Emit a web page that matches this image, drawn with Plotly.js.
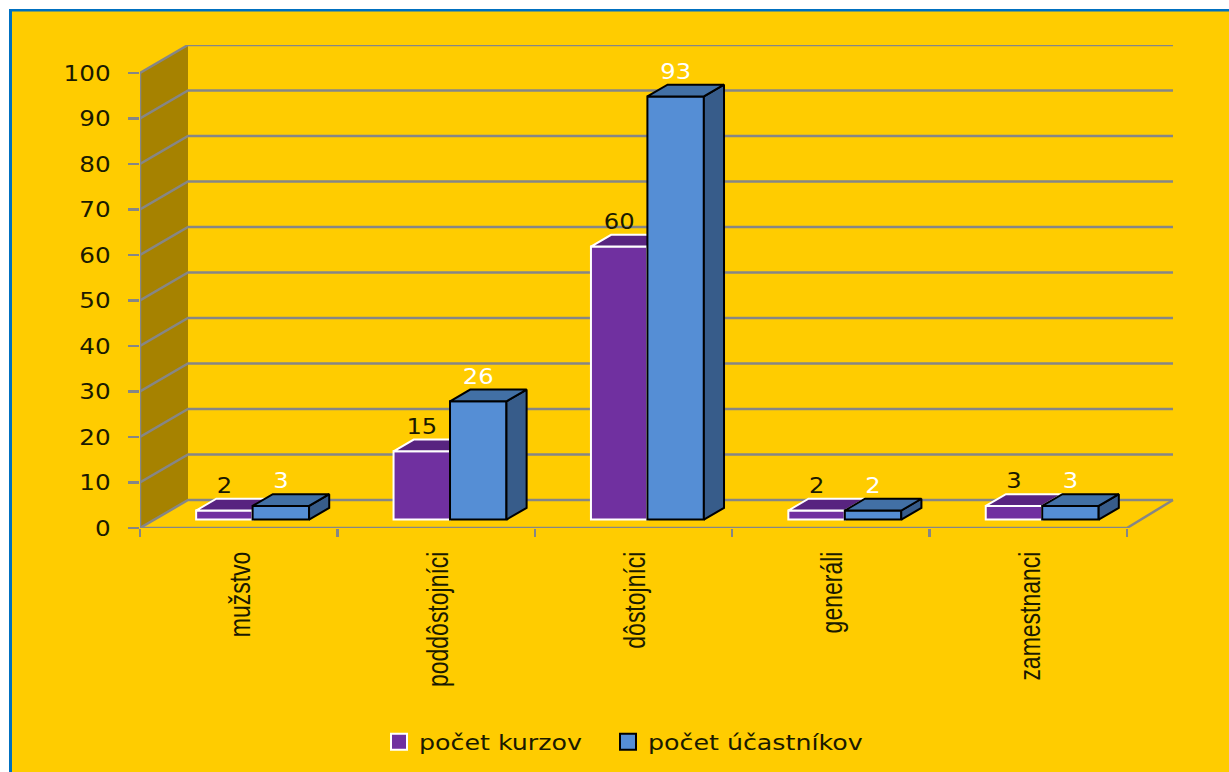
<!DOCTYPE html>
<html>
<head>
<meta charset="utf-8">
<script src="https://cdn.plot.ly/plotly-3.0.1.min.js"></script>
<style>
html,body{margin:0;padding:0;background:#fff;overflow:hidden}
#chart{width:1229px;height:772px}
.legend .scrollbox{clip-path:none !important}
.legendpoints path{d:path('M8,8H-8V-8H8Z')}
</style>
</head>
<body>
<div id="chart"></div>
<script>
// ---- data ----
const categories = ['mužstvo','poddôstojníci','dôstojníci','generáli','zamestnanci'];
const seriesNames = ['počet kurzov','počet účastníkov'];
const kurzov = [2,15,60,2,3];
const ucastnikov = [3,26,93,2,3];
const valueTicks = [0,10,20,30,40,50,60,70,80,90,100];

// ---- look ----
const YELLOW='#FFCC00', WALL='#A68200', GRID='#868686';
const PURPLE={front:'#7030A0',top:'#582480',side:'#582480',line:'#FFFFFF'};
const BLUE={front:'#558ED5',top:'#4270A5',side:'#375C8A',line:'#000000'};

// ---- oblique projection, in axis units ----
const W=1229,H=772;
const frontL=140,frontR=1127,base=528,v100=73;
const pxCat=(frontR-frontL)/categories.length, pxVal=(base-v100)/100;
const floorDX=48/pxCat, floorDY=28/pxVal;      // full floor depth
const xMax=categories.length+floorDX, yMax=100+floorDY;
const plotR=frontL+xMax*pxCat, plotT=base-yMax*pxVal;
const d0=0.30, d1=0.72;                        // bar depth on the floor
const barW=0.286, groupStart=0.2115;
const backEnd=categories.length-2/pxCat;       // the back wall ends a touch sooner
const P=(c,v,d)=>[c+d*floorDX, v+d*floorDY];

function poly(pts){const xs=[],ys=[];pts.forEach(p=>{xs.push(p[0]);ys.push(p[1])});xs.push(pts[0][0]);ys.push(pts[0][1]);xs.push(null);ys.push(null);return [xs,ys];}
function merge(list){return [list.flatMap(a=>a[0]),list.flatMap(a=>a[1])];}
function faceTrace(pair,fill,line,ax){
  return {type:'scatter',mode:'lines',x:pair[0],y:pair[1],fill:'toself',fillcolor:fill,
    line:{color:line,width:2},hoverinfo:'skip',showlegend:false,xaxis:ax[0],yaxis:ax[1]};
}
function lineTrace(xs,ys){
  return {type:'scatter',mode:'lines',x:xs,y:ys,line:{color:GRID,width:2.5},hoverinfo:'skip',showlegend:false};
}

const traces=[];
// left wall
const wall=poly([P(0,0,0),P(0,0,1),P(0,100,1),P(0,100,0)]);
traces.push({type:'scatter',mode:'lines',x:wall[0],y:wall[1],fill:'toself',fillcolor:WALL,line:{width:0},hoverinfo:'skip',showlegend:false});
// gridlines wrapped around wall and back
valueTicks.forEach(v=>{
  const a=P(0,v,0),b=P(0,v,1),c=P(backEnd,v,1);
  traces.push(lineTrace([a[0],b[0],c[0]],[a[1],b[1],c[1]]));
});
// floor front edge, right edge, wall verticals
{
  const a=P(0,0,0),e=P(categories.length,0,0),f=P(backEnd,0,1);
  traces.push(lineTrace([a[0],e[0],f[0]],[a[1],e[1],f[1]]));
  const t=P(0,100,0);
  traces.push(lineTrace([a[0],t[0]],[a[1],t[1]]));
}

function addSeries(values,slot,col,name,ax){
  const tops=[],sides=[];
  const xf=[],w=[];
  values.forEach((v,i)=>{
    const l=i+groupStart+slot*barW, r=l+barW;
    xf.push(l+barW/2+d0*floorDX); w.push(barW);
    tops.push(poly([P(l,v,d0),P(l,v,d1),P(r,v,d1),P(r,v,d0)]));
    sides.push(poly([P(r,0,d0),P(r,0,d1),P(r,v,d1),P(r,v,d0)]));
  });
  traces.push(faceTrace(merge(sides),col.side,col.line,ax));
  traces.push(faceTrace(merge(tops),col.top,col.line,ax));
  traces.push({type:'bar',name:name,x:xf,y:values,base:values.map(()=>d0*floorDY),width:w,
    marker:{color:col.front,line:{color:col.line,width:2}},xaxis:ax[0],yaxis:ax[1],
    hoverinfo:'y',showlegend:true,legendrank:slot+1});
}
// one overlay per series so that each later bar covers the earlier one
addSeries(kurzov,0,PURPLE,seriesNames[0],['x2','y2']);
addSeries(ucastnikov,1,BLUE,seriesNames[1],['x3','y3']);

// value labels
const labelLift=23/pxVal;
function labels(values,slot,color){
  traces.push({type:'scatter',mode:'text',
    x:values.map((v,i)=>i+groupStart+slot*barW+barW/2+d0*floorDX),
    y:values.map(v=>v+d0*floorDY+labelLift),
    text:values.map(String),textposition:'middle center',
    textfont:{family:'DejaVu Sans',size:22,color:color},
    cliponaxis:false,hoverinfo:'skip',showlegend:false,xaxis:'x3',yaxis:'y3'});
}
labels(kurzov,0,'#1a1a00');
labels(ucastnikov,1,'#FFFFFF');

const hiddenX={range:[0,xMax],overlaying:'x',visible:false,fixedrange:true};
const hiddenY={range:[0,yMax],overlaying:'y',visible:false,fixedrange:true};
const plotW=plotR-frontL, plotH=base-plotT;
const paperX=px=>(px-frontL)/plotW, paperY=py=>(base-py)/plotH;

const layout={
  width:W,height:H,
  margin:{l:frontL,r:W-plotR,t:plotT,b:H-base,pad:0,autoexpand:false},
  paper_bgcolor:'#FFFFFF',plot_bgcolor:'rgba(0,0,0,0)',
  font:{family:'DejaVu Sans',color:'#1a1a00',size:22},
  barmode:'overlay',
  xaxis:{range:[0,xMax],showgrid:false,zeroline:false,showline:false,fixedrange:true,automargin:false,
    tickmode:'array',tickvals:categories.map((c,i)=>i+0.52),ticktext:categories,
    ticks:'',tickangle:-90,ticklabelstandoff:18,
    tickfont:{family:'Liberation Sans',size:23,color:'#1a1a00'},
    minor:{tickmode:'array',tickvals:categories.map((c,i)=>i).concat([categories.length]),
      ticks:'outside',ticklen:8,tickwidth:2.5,tickcolor:GRID,showgrid:false}},
  yaxis:{range:[0,yMax],showgrid:false,zeroline:false,showline:false,fixedrange:true,automargin:false,
    tickmode:'array',tickvals:valueTicks,ticktext:valueTicks.map(String),
    ticks:'outside',ticklen:11,tickwidth:2.5,tickcolor:GRID,ticklabelstandoff:13,
    tickfont:{family:'DejaVu Sans',size:22,color:'#1a1a00'}},
  xaxis2:hiddenX,yaxis2:hiddenY,xaxis3:hiddenX,yaxis3:hiddenY,
  legend:{orientation:'h',x:paperX(379),xanchor:'left',y:paperY(742),yanchor:'middle',
    bgcolor:'rgba(0,0,0,0)',borderwidth:0,traceorder:'normal',entrywidth:184,entrywidthmode:'pixels',
    font:{family:'DejaVu Sans',size:22,color:'#1a1a00'}},
  shapes:[
    {type:'rect',layer:'below',xref:'paper',yref:'paper',x0:paperX(9),x1:paperX(W+5),y0:paperY(9),y1:paperY(H+5),
     fillcolor:'#0070C0',line:{width:0}},
    {type:'rect',layer:'below',xref:'paper',yref:'paper',x0:paperX(12),x1:paperX(W+5),y0:paperY(11.5),y1:paperY(H+5),
     fillcolor:YELLOW,line:{width:0}}
  ],
  showlegend:true,hovermode:false
};
// the reference's text is optically stretched: apply that stretch about each label's anchor
function stretch(selector,sx,sy){
  document.querySelectorAll(selector).forEach(t=>{
    const x=t.getAttribute('x')||0, y=t.getAttribute('y')||0;
    const tr=t.getAttribute('transform')||'';
    t.setAttribute('transform',tr+` translate(${x},${y}) scale(${sx},${sy}) translate(${-x},${-y})`);
  });
}
Plotly.newPlot('chart',traces,layout,{displayModeBar:false,staticPlot:true}).then(()=>{
  stretch('.xtick text',1,1.25);
  stretch('.ytick text',1.12,1);
  stretch('.textpoint text',1.1,1);
  stretch('.legendtext',1.15,1);
});
</script>
</body>
</html>
